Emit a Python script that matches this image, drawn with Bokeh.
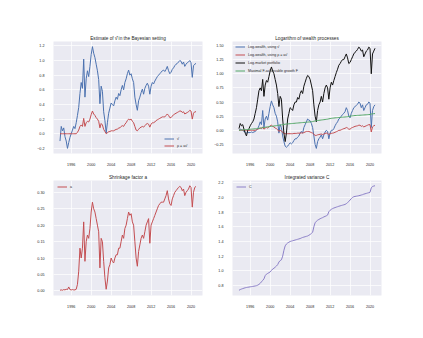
import numpy as np
from bokeh.plotting import figure
from bokeh.models import Range1d, FixedTicker, CustomJSTickFormatter
from bokeh.layouts import column, row
from bokeh.embed import file_html
from bokeh.resources import INLINE

# quarterly observation dates (decimal years), 1993.75 ... 2021.0
dates = [1993.75 + 0.25 * i for i in range(110)]

nu_hat = [-0.10,
    0.10, 0.04, 0.08, -0.04,
    -0.10, -0.20, -0.12, -0.05,
    0.00, 0.05, 0.10, 0.07,
    0.15, 0.25, 0.36, 0.55,
    0.70, 0.62, 1.02, 0.50,
    0.75, 0.86, 0.78, 0.92,
    1.08, 1.19, 1.10, 1.04,
    0.95, 0.86, 0.74, 0.41,
    0.65, 0.58, 0.30, 0.18,
    0.01, 0.15, 0.28, 0.35,
    0.42, 0.40, 0.38, 0.45,
    0.50, 0.47, 0.55, 0.52,
    0.60, 0.66, 0.60, 0.70,
    0.75, 0.82, 0.87, 0.80,
    0.82, 0.75, 0.70, 0.50,
    0.40, 0.32, 0.45, 0.50,
    0.56, 0.61, 0.54, 0.62,
    0.66, 0.69, 0.65, 0.54,
    0.65, 0.70, 0.68, 0.72,
    0.75, 0.78, 0.80, 0.82,
    0.84, 0.86, 0.87, 0.85,
    0.88, 0.92, 0.86, 0.82,
    0.84, 0.88, 0.90, 0.93,
    0.95, 0.96, 0.98, 1.00,
    0.99, 0.95, 0.98, 0.92,
    0.95, 0.97, 0.98, 1.00,
    0.97, 0.77, 0.93, 0.95,
    0.96]

rho = [0.00,
    0.00, 0.00, 0.00, 0.00,
    0.00, 0.00, 0.00, 0.00,
    0.00, 0.00, 0.00, 0.00,
    0.00, 0.02, 0.05, 0.10,
    0.12, 0.10, 0.21, 0.10,
    0.15, 0.17, 0.16, 0.20,
    0.26, 0.31, 0.27, 0.25,
    0.22, 0.20, 0.17, 0.08,
    0.14, 0.12, 0.06, 0.03,
    0.00, 0.01, 0.03, 0.03,
    0.04, 0.04, 0.04, 0.05,
    0.06, 0.06, 0.08, 0.08,
    0.10, 0.11, 0.10, 0.13,
    0.15, 0.18, 0.20, 0.19,
    0.20, 0.17, 0.15, 0.10,
    0.05, 0.04, 0.06, 0.08,
    0.09, 0.10, 0.09, 0.11,
    0.13, 0.14, 0.13, 0.09,
    0.13, 0.15, 0.15, 0.16,
    0.18, 0.19, 0.20, 0.21,
    0.22, 0.23, 0.23, 0.23,
    0.25, 0.27, 0.25, 0.22,
    0.22, 0.24, 0.26, 0.27,
    0.28, 0.29, 0.30, 0.31,
    0.31, 0.29, 0.30, 0.27,
    0.28, 0.29, 0.30, 0.32,
    0.31, 0.20, 0.28, 0.30,
    0.30]

shrink_a = [0.002,
    0.003, 0.002, 0.004, 0.003,
    0.005, 0.004, 0.012, 0.004,
    0.003, 0.004, 0.003, 0.003,
    0.005, 0.020, 0.060, 0.130,
    0.100, 0.130, 0.210, 0.090,
    0.150, 0.170, 0.160, 0.190,
    0.240, 0.270, 0.250, 0.240,
    0.220, 0.200, 0.180, 0.070,
    0.160, 0.150, 0.090, 0.040,
    0.005, 0.030, 0.070, 0.080,
    0.100, 0.090, 0.085, 0.100,
    0.110, 0.110, 0.130, 0.130,
    0.150, 0.170, 0.160, 0.190,
    0.200, 0.220, 0.240, 0.230,
    0.235, 0.210, 0.200, 0.150,
    0.100, 0.075, 0.120, 0.140,
    0.160, 0.170, 0.160, 0.180,
    0.200, 0.210, 0.220, 0.145,
    0.200, 0.210, 0.220, 0.230,
    0.240, 0.250, 0.260, 0.265,
    0.270, 0.270, 0.270, 0.280,
    0.290, 0.305, 0.280, 0.265,
    0.260, 0.280, 0.290, 0.300,
    0.305, 0.310, 0.315, 0.318,
    0.315, 0.305, 0.310, 0.290,
    0.300, 0.305, 0.310, 0.320,
    0.315, 0.255, 0.300, 0.315,
    0.318]

log_market = [0.03,
    0.12, 0.08, 0.10, 0.02,
    -0.05, -0.10, 0.00, 0.03,
    0.08, 0.12, 0.15, 0.20,
    0.30, 0.40, 0.55, 0.70,
    0.75, 0.70, 0.90, 0.60,
    0.80, 0.88, 0.85, 0.95,
    1.05, 1.12, 1.05, 1.00,
    0.90, 0.80, 0.65, 0.42,
    0.60, 0.55, 0.20, -0.05,
    -0.20, -0.05, 0.20, 0.30,
    0.40, 0.38, 0.35, 0.45,
    0.50, 0.50, 0.58, 0.55,
    0.65, 0.70, 0.65, 0.78,
    0.85, 0.92, 0.97, 0.95,
    0.90, 0.80, 0.70, 0.45,
    0.25, 0.15, 0.35, 0.45,
    0.50, 0.60, 0.50, 0.65,
    0.75, 0.80, 0.75, 0.55,
    0.75, 0.85, 0.80, 0.88,
    0.95, 1.02, 1.08, 1.15,
    1.18, 1.22, 1.25, 1.25,
    1.30, 1.35, 1.28, 1.18,
    1.20, 1.25, 1.30, 1.35,
    1.38, 1.40, 1.43, 1.47,
    1.45, 1.40, 1.42, 1.30,
    1.35, 1.40, 1.42, 1.47,
    1.45, 1.00, 1.35, 1.40,
    1.45]

log_wealth_nu = [0.00,
    0.02, 0.01, 0.00, -0.02,
    -0.03, -0.05, -0.04, -0.04,
    -0.04, -0.03, -0.04, -0.03,
    -0.02, 0.00, 0.03, 0.08,
    0.15, 0.10, 0.35, 0.05,
    0.20, 0.25, 0.18, 0.30,
    0.42, 0.52, 0.45, 0.40,
    0.30, 0.25, 0.15, -0.05,
    0.10, 0.05, -0.10, -0.20,
    -0.28, -0.30, -0.28, -0.25,
    -0.22, -0.24, -0.22, -0.18,
    -0.15, -0.15, -0.12, -0.10,
    -0.05, -0.02, -0.05, 0.05,
    0.10, 0.15, 0.20, 0.18,
    0.17, 0.12, 0.05, -0.10,
    -0.25, -0.32, -0.20, -0.15,
    -0.12, -0.08, -0.15, -0.08,
    -0.03, 0.00, -0.02, -0.15,
    -0.05, 0.00, 0.00, 0.03,
    0.08, 0.12, 0.15, 0.20,
    0.22, 0.25, 0.28, 0.30,
    0.33, 0.40, 0.35, 0.25,
    0.22, 0.30, 0.35, 0.40,
    0.42, 0.44, 0.46, 0.50,
    0.48, 0.40, 0.45, 0.35,
    0.40, 0.45, 0.46, 0.50,
    0.48, 0.05, 0.35, 0.42,
    0.45]

log_wealth_rho = [0.00,
    0.00, 0.00, 0.00, 0.00,
    0.00, 0.00, 0.00, 0.00,
    0.00, 0.00, 0.00, 0.00,
    0.00, 0.01, 0.02, 0.03,
    0.04, 0.03, 0.06, 0.02,
    0.04, 0.05, 0.04, 0.06,
    0.08, 0.09, 0.07, 0.06,
    0.04, 0.03, 0.01, -0.02,
    0.00, -0.01, -0.04, -0.05,
    -0.06, -0.06, -0.06, -0.06,
    -0.06, -0.06, -0.06, -0.055,
    -0.055, -0.055, -0.05, -0.05,
    -0.05, -0.045, -0.05, -0.04,
    -0.03, -0.02, -0.02, -0.02,
    -0.03, -0.04, -0.05, -0.07,
    -0.09, -0.09, -0.08, -0.075,
    -0.07, -0.065, -0.075, -0.065,
    -0.055, -0.05, -0.055, -0.075,
    -0.06, -0.055, -0.05, -0.045,
    -0.035, -0.025, -0.015, 0.00,
    0.00, 0.01, 0.02, 0.03,
    0.035, 0.05, 0.04, 0.02,
    0.02, 0.04, 0.05, 0.06,
    0.07, 0.075, 0.08, 0.09,
    0.09, 0.07, 0.08, 0.06,
    0.07, 0.08, 0.09, 0.10,
    0.10, -0.03, 0.06, 0.08,
    0.09]

max_growth = [0.000,
    0.003, 0.005, 0.007, 0.009,
    0.011, 0.013, 0.015, 0.017,
    0.019, 0.021, 0.023, 0.025,
    0.027, 0.029, 0.032, 0.035,
    0.038, 0.042, 0.046, 0.050,
    0.055, 0.058, 0.061, 0.064,
    0.067, 0.070, 0.073, 0.076,
    0.079, 0.082, 0.086, 0.090,
    0.093, 0.096, 0.100, 0.104,
    0.108, 0.111, 0.113, 0.115,
    0.117, 0.119, 0.121, 0.123,
    0.125, 0.127, 0.129, 0.131,
    0.133, 0.135, 0.137, 0.139,
    0.141, 0.143, 0.145, 0.147,
    0.149, 0.152, 0.155, 0.160,
    0.166, 0.170, 0.173, 0.176,
    0.179, 0.182, 0.185, 0.188,
    0.191, 0.194, 0.197, 0.203,
    0.208, 0.211, 0.214, 0.217,
    0.220, 0.222, 0.224, 0.226,
    0.228, 0.230, 0.232, 0.234,
    0.236, 0.238, 0.241, 0.245,
    0.249, 0.253, 0.256, 0.259,
    0.261, 0.262, 0.264, 0.265,
    0.267, 0.268, 0.270, 0.272,
    0.273, 0.275, 0.277, 0.279,
    0.280, 0.288, 0.292, 0.294,
    0.296]

integrated_var = [0.735,
    0.745, 0.752, 0.758, 0.764,
    0.769, 0.773, 0.776, 0.779,
    0.782, 0.785, 0.788, 0.791,
    0.794, 0.798, 0.805, 0.815,
    0.830, 0.850, 0.870, 0.890,
    0.935, 0.955, 0.965, 0.975,
    0.985, 1.005, 1.025, 1.035,
    1.050, 1.065, 1.085, 1.120,
    1.140, 1.150, 1.200, 1.280,
    1.340, 1.365, 1.380, 1.390,
    1.400, 1.405, 1.410, 1.415,
    1.420, 1.425, 1.430, 1.435,
    1.440, 1.448, 1.455, 1.460,
    1.465, 1.470, 1.475, 1.485,
    1.495, 1.510, 1.525, 1.600,
    1.655, 1.675, 1.690, 1.700,
    1.710, 1.718, 1.725, 1.735,
    1.742, 1.750, 1.760, 1.805,
    1.825, 1.838, 1.848, 1.856,
    1.862, 1.868, 1.874, 1.880,
    1.885, 1.890, 1.895, 1.900,
    1.905, 1.915, 1.930, 1.945,
    1.965, 1.985, 2.000, 2.010,
    2.014, 2.017, 2.020, 2.024,
    2.028, 2.033, 2.038, 2.045,
    2.050, 2.055, 2.060, 2.065,
    2.070, 2.130, 2.150, 2.155,
    2.160]

x_ticks = [1996, 2000, 2004, 2008, 2012, 2016, 2020]
x_tick_labels = ["1996", "2000", "2004", "2008", "2012", "2016", "2020"]
tl_yticks = [-0.2, 0.0, 0.2, 0.4, 0.6, 0.8, 1.0, 1.2]
tr_yticks = [-0.25, 0.0, 0.25, 0.5, 0.75, 1.0, 1.25, 1.5]
bl_yticks = [0.0, 0.05, 0.1, 0.15, 0.2, 0.25, 0.3]
br_yticks = [0.8, 1.0, 1.2, 1.4, 1.6, 1.8, 2.0, 2.2]

BLUE = "#4C72B0"
RED = "#C44E52"
GREEN = "#55A868"
BLACK = "#111111"
PURPLE = "#8C80C8"
FONT = "Liberation Sans"
TXT = "#262626"

FW, FH = 149, 115


def make_fig(title, yr, yticks, decimals, ml, mr, mt, mb):
    p = figure(width=ml + FW + mr, height=mt + FH + mb,
               x_range=Range1d(1992.45, 2022.3), y_range=Range1d(*yr),
               output_backend="svg", toolbar_location=None, title=title,
               min_border_left=ml, min_border_right=mr,
               min_border_top=mt, min_border_bottom=mb)
    p.background_fill_color = "#EAEAF2"
    p.border_fill_color = "white"
    p.outline_line_color = None
    p.title.text_font = FONT
    p.title.text_font_size = "4.7px"
    p.title.text_font_style = "normal"
    p.title.text_color = TXT
    p.title.align = "center"
    p.title.standoff = 2
    p.title.offset = 0
    p.xaxis.ticker = FixedTicker(ticks=x_ticks)
    p.xaxis.major_label_overrides = dict(zip(x_ticks, x_tick_labels))
    p.yaxis.ticker = FixedTicker(ticks=yticks)
    p.yaxis.formatter = CustomJSTickFormatter(
        code="var s = tick.toFixed(%d); if (Math.abs(tick) < 1e-9) { s = (0).toFixed(%d); } return s.replace('-', '\\u2212');" % (decimals, decimals))
    for ax in (p.xaxis[0], p.yaxis[0]):
        ax.axis_line_color = None
        ax.major_tick_line_color = None
        ax.minor_tick_line_color = None
        ax.major_label_text_font = FONT
        ax.major_label_text_font_size = "3.7px"
        ax.major_label_text_color = TXT
        ax.major_label_standoff = 3
    p.xgrid.grid_line_color = "white"
    p.ygrid.grid_line_color = "white"
    p.xgrid.grid_line_width = 0.7
    p.ygrid.grid_line_width = 0.7
    return p


def style_legend(p, loc, margin, padding, spacing):
    lg = p.legend[0]
    lg.location = loc
    lg.background_fill_alpha = 0
    lg.border_line_alpha = 0
    lg.label_text_font = FONT
    lg.label_text_font_size = "3.6px"
    lg.label_text_color = TXT
    lg.glyph_width = 10
    lg.glyph_height = 5
    lg.label_height = 5
    lg.label_standoff = 3
    lg.spacing = spacing
    lg.margin = margin
    lg.padding = padding


LW = 1.0

p1 = make_fig("Estimate of \u03bd\u0302 in the Bayesian setting", (-0.27, 1.26), tl_yticks, 1, 53, 2, 41, 12)
p1.line(dates, nu_hat, color=BLUE, line_width=LW, legend_label="\u03bd\u0302")
p1.line(dates, rho, color=RED, line_width=LW, legend_label="\u03c1 = a\u03bd\u0302")
style_legend(p1, "bottom_right", 4, 1, 2)

p2 = make_fig("Logarithm of wealth processes", (-0.41, 1.57), tr_yticks, 2, 28, 10, 41, 12)
p2.line(dates, log_wealth_nu, color=BLUE, line_width=LW, legend_label="Log-wealth, using \u03bd\u0302")
p2.line(dates, log_wealth_rho, color=RED, line_width=LW, legend_label="Log-wealth, using \u03c1 = a\u03bd\u0302")
p2.line(dates, log_market, color=BLACK, line_width=LW, legend_label="Log-market portfolio")
p2.line(dates, max_growth, color=GREEN, line_width=LW, legend_label="Maximal F-achievable growth F")
style_legend(p2, "top_left", 2, 1, 3)

p3 = make_fig("Shrinkage factor a", (-0.014, 0.336), bl_yticks, 2, 53, 2, 12, 20)
p3.line(dates, shrink_a, color=RED, line_width=LW, legend_label="a")
style_legend(p3, "top_left", 3, 1, 2)

p4 = make_fig("Integrated variance C", (0.664, 2.231), br_yticks, 1, 28, 10, 12, 20)
p4.line(dates, integrated_var, color=PURPLE, line_width=LW, legend_label="C")
style_legend(p4, "top_left", 3, 1, 2)

layout = column(row(p1, p2), row(p3, p4))
open("out.html", "w").write(file_html(layout, INLINE))
